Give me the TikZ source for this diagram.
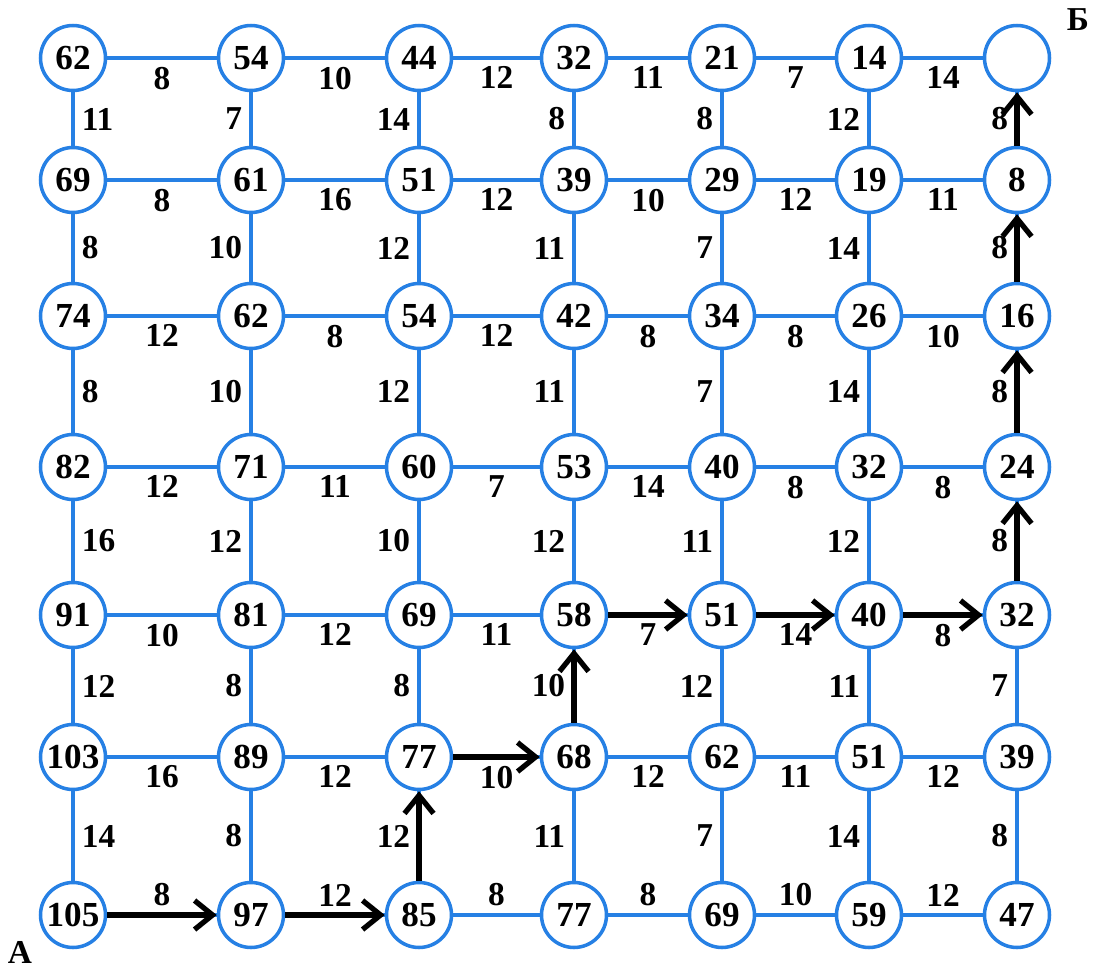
\documentclass[tikz,border=0pt]{standalone}
\usepackage{fontspec}
\setmainfont{Liberation Serif}
\usetikzlibrary{arrows.meta}

\definecolor{gridblue}{RGB}{38,128,228}

\begin{document}
\begin{tikzpicture}[x=0.02cm, y=-0.02cm,
    vert/.style={circle, draw=gridblue, line width=2pt, minimum size=1.3cm,
        inner sep=0pt, font=\bfseries\fontsize{20}{20}\selectfont},
    edge/.style={draw=gridblue, line width=2.1pt},
    wt/.style={font=\bfseries\fontsize{19}{19}\selectfont, inner sep=4pt},
    route/.style={draw=black, line width=3.2pt,
        -{Straight Barb[length=3.6mm, width=5.8mm, line width=3pt]}}]
    \useasboundingbox (0,0) rectangle (1094,969);

    % Vertices with distances to B
    \foreach \r/\vals in {1/{62,54,44,32,21,14,{}}, 2/{69,61,51,39,29,19,8},
        3/{74,62,54,42,34,26,16}, 4/{82,71,60,53,40,32,24},
        5/{91,81,69,58,51,40,32}, 6/{103,89,77,68,62,51,39},
        7/{105,97,85,77,69,59,47}}
      \foreach [count=\c] \v in \vals {
        \pgfmathsetmacro\x{{73,251,419,574,722,869,1017}[\c-1]}
        \pgfmathsetmacro\y{{58,180,316,467,615,757,915}[\r-1]}
        \node[vert] (n-\r-\c) at (\x,\y) {\v};
      }

    % Horizontal edges
    \foreach \r/\ws in {1/{8,10,12,11,7,14}, 2/{8,16,12,10,12,11},
        3/{12,8,12,8,8,10}, 4/{12,11,7,14,8,8},
        5/{10,12,11,7,14,8}, 6/{16,12,10,12,11,12}}
      \foreach [count=\c] \w in \ws {
        \pgfmathtruncatemacro\d{\c+1}
        \draw[edge] (n-\r-\c) -- (n-\r-\d) node[wt, midway, below] {\w};
      }
    \foreach [count=\c] \w in {8,12,8,8,10,12} {
        \pgfmathtruncatemacro\d{\c+1}
        \draw[edge] (n-7-\c) -- (n-7-\d) node[wt, midway, above] {\w};
      }

    % Vertical edges
    \foreach [count=\r] \w in {11,8,8,16,12,14} {
        \pgfmathtruncatemacro\s{\r+1}
        \draw[edge] (n-\r-1) -- (n-\s-1) node[wt, midway, right] {\w};
      }
    \foreach \c/\ws in {2/{7,10,10,12,8,8}, 3/{14,12,12,10,8,12},
        4/{8,11,11,12,10,11}, 5/{8,7,7,11,12,7},
        6/{12,14,14,12,11,14}, 7/{8,8,8,8,7,8}}
      \foreach [count=\r] \w in \ws {
        \pgfmathtruncatemacro\s{\r+1}
        \draw[edge] (n-\r-\c) -- (n-\s-\c) node[wt, midway, left] {\w};
      }

    % Shortest route from A to B
    \draw[route] (n-7-1) -- (n-7-2);
    \draw[route] (n-7-2) -- (n-7-3);
    \draw[route] (n-7-3) -- (n-6-3);
    \draw[route] (n-6-3) -- (n-6-4);
    \draw[route] (n-6-4) -- (n-5-4);
    \draw[route] (n-5-4) -- (n-5-5);
    \draw[route] (n-5-5) -- (n-5-6);
    \draw[route] (n-5-6) -- (n-5-7);
    \draw[route] (n-5-7) -- (n-4-7);
    \draw[route] (n-4-7) -- (n-3-7);
    \draw[route] (n-3-7) -- (n-2-7);
    \draw[route] (n-2-7) -- (n-1-7);

    % End points
    \node[wt] (A) at (20,952) {А};
    \node[wt] (B) at (1078,20) {Б};
\end{tikzpicture}
\end{document}
